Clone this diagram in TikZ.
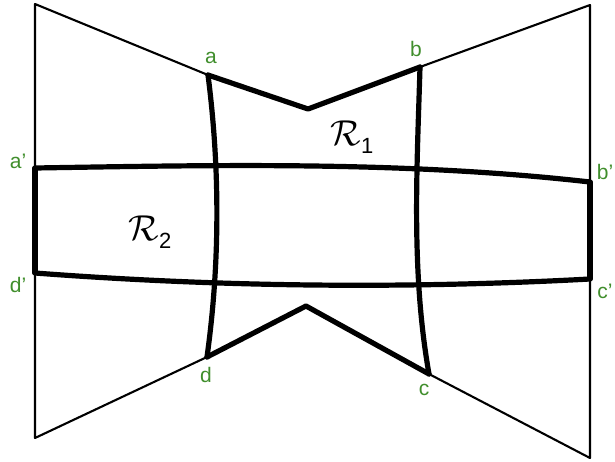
\RequirePackage{fix-cm}
\documentclass[tikz,border=0pt]{standalone}
\usepackage{fontspec}
\setmainfont{Liberation Sans}
\definecolor{lblgreen}{RGB}{64,142,44}
\begin{document}
\begin{tikzpicture}[x=1pt,y=-1pt,
  thin line/.style={line width=2.1pt,line cap=round,line join=round},
  thick line/.style={line width=5.2pt,line cap=round,line join=round},
  lbl/.style={text=lblgreen,font=\fontsize{21}{21}\selectfont,inner sep=0pt},
  reg/.style={font=\fontsize{36}{36}\selectfont,inner sep=0pt}]
\useasboundingbox (0,0) rectangle (615,461);
% corner coordinates
\coordinate (TL) at (35,4);
\coordinate (BL) at (35,438);
\coordinate (TR) at (590,5);
\coordinate (BR) at (590,458);
\coordinate (a) at (208,75);
\coordinate (b) at (420,67);
\coordinate (c) at (429,374);
\coordinate (d) at (207,357);
\coordinate (nt) at (308,109);
\coordinate (nb) at (306,306);
\coordinate (a2) at (35,168);
\coordinate (b2) at (590,182);
\coordinate (c2) at (590,279);
\coordinate (d2) at (35,273);
% thin outline
\draw[thin line] (a) -- (TL) -- (BL) -- (d);
\draw[thin line] (b) -- (TR) -- (BR) -- (c);
% thick notched edges
\draw[thick line] (a) -- (nt) -- (b);
\draw[thick line] (d) -- (nb) -- (c);
% thick vertical sides of R2
\draw[thick line] (a2) -- (d2);
\draw[thick line] (b2) -- (c2);
% curved horizontals
\draw[thick line] (a2) .. controls (220,165) and (405,161) .. (b2);
\draw[thick line] (d2) .. controls (220,287) and (405,289) .. (c2);
% curved verticals
\draw[thick line] (a) .. controls (220,169) and (220,263) .. (d);
\draw[thick line] (b) .. controls (417,169) and (411,272) .. (c);
% labels
\node[lbl] (la) at (211,58) {a};
\node[lbl] (lb) at (416,49) {b};
\node[lbl] (lc) at (424,390) {c};
\node[lbl] (ld) at (206,375) {d};
\node[lbl] (la2) at (18,161) {a’};
\node[lbl] (lb2) at (605,172) {b’};
\node[lbl] (lc2) at (605,291) {c’};
\node[lbl] (ld2) at (18,285) {d’};
\node[reg] (r1) at (352,137) {$\mathcal{R}$\raisebox{-0.45ex}{\fontsize{22}{22}\selectfont 1}};
\node[reg] (r2) at (150,232) {$\mathcal{R}$\raisebox{-0.45ex}{\fontsize{22}{22}\selectfont 2}};
\end{tikzpicture}
\end{document}
